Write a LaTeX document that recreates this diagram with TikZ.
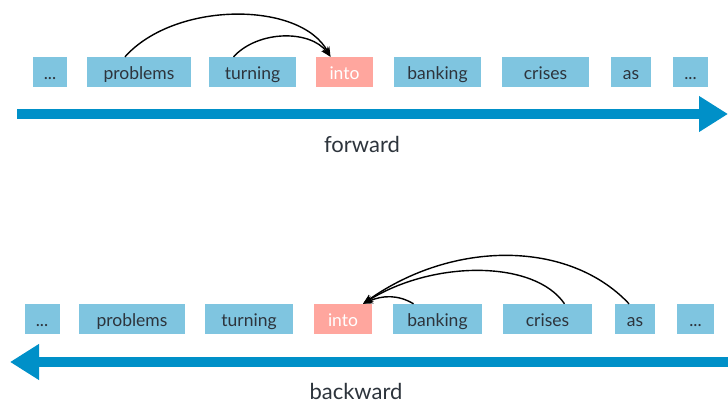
\documentclass[tikz,border=0pt]{standalone}
\usepackage{fontspec}
\setmainfont{Lato}
\usetikzlibrary{arrows.meta}
\definecolor{wbox}{RGB}{127,197,224}
\definecolor{tbox}{RGB}{255,166,158}
\definecolor{flow}{RGB}{0,144,200}
\definecolor{wtext}{RGB}{45,52,60}
\tikzset{
  word/.style={fill=wbox, minimum height=30pt, inner sep=0pt, text height=15.5pt, text depth=0.5pt, text=wtext, font=\fontsize{17.5}{19}\selectfont},
  target/.style={word, fill=tbox, text=white},
  flowarrow/.style={draw=flow, line width=10pt, -{Triangle[length=29pt,width=34pt]}},
  dep/.style={draw=black, line width=1.4pt, -{Stealth[length=10pt,width=8pt]}},
  dirlabel/.style={text=wtext, inner sep=0pt, anchor=base, font=\fontsize{22}{24}\selectfont}
}
\begin{document}
\begin{tikzpicture}[x=1pt,y=-1pt]
\useasboundingbox (0,0) rectangle (728,403);
% forward row
\node[word, minimum width=34pt] (fa) at (50,72) {...};
\node[word, minimum width=104pt] (fb) at (139,72) {problems};
\node[word, minimum width=87pt] (fc) at (252.5,72) {turning};
\node[target, minimum width=57pt] (fd) at (344.5,72) {into};
\node[word, minimum width=87pt] (fe) at (437.5,72) {banking};
\node[word, minimum width=87pt] (ff) at (545.5,72) {crises};
\node[word, minimum width=40pt] (fg) at (631,72) {as};
\node[word, minimum width=35pt] (fh) at (690.5,72) {...};
\coordinate (fs) at (17,114);
\coordinate (ft) at (728,114);
\draw[flowarrow] (fs) -- (ft);
\node[dirlabel] (fl) at (362,153) {forward};
\draw[dep] ([xshift=-14pt]fb.north) .. controls +(50,-56) and +(-30,-56) .. ([xshift=-14pt]fd.north);
\draw[dep] ([xshift=-19pt]fc.north) .. controls +(25,-27) and +(-20,-27) .. ([xshift=-14pt]fd.north);
% backward row
\node[word, minimum width=35pt] (ba) at (42,319) {...};
\node[word, minimum width=106pt] (bb) at (132,319) {problems};
\node[word, minimum width=88pt] (bc) at (249,319) {turning};
\node[target, minimum width=58pt] (bd) at (343,319) {into};
\node[word, minimum width=89pt] (be) at (437.5,319) {banking};
\node[word, minimum width=89pt] (bf) at (547.5,319) {crises};
\node[word, minimum width=40pt] (bg) at (635,319) {as};
\node[word, minimum width=37pt] (bh) at (695.5,319) {...};
\coordinate (bs) at (728,362);
\coordinate (bt) at (10,362);
\draw[flowarrow] (bs) -- (bt);
\node[dirlabel] (bl) at (356,399.5) {backward};
\draw[dep] ([xshift=-24pt]be.north) .. controls +(-15,-9) and +(20,-9) .. ([xshift=20pt]bd.north);
\draw[dep] ([xshift=17pt]bf.north) .. controls +(-30,-44) and +(70,-44) .. ([xshift=20pt]bd.north);
\draw[dep] ([xshift=-6pt]bg.north) .. controls +(-60,-64) and +(90,-64) .. ([xshift=20pt]bd.north);
\end{tikzpicture}
\end{document}
